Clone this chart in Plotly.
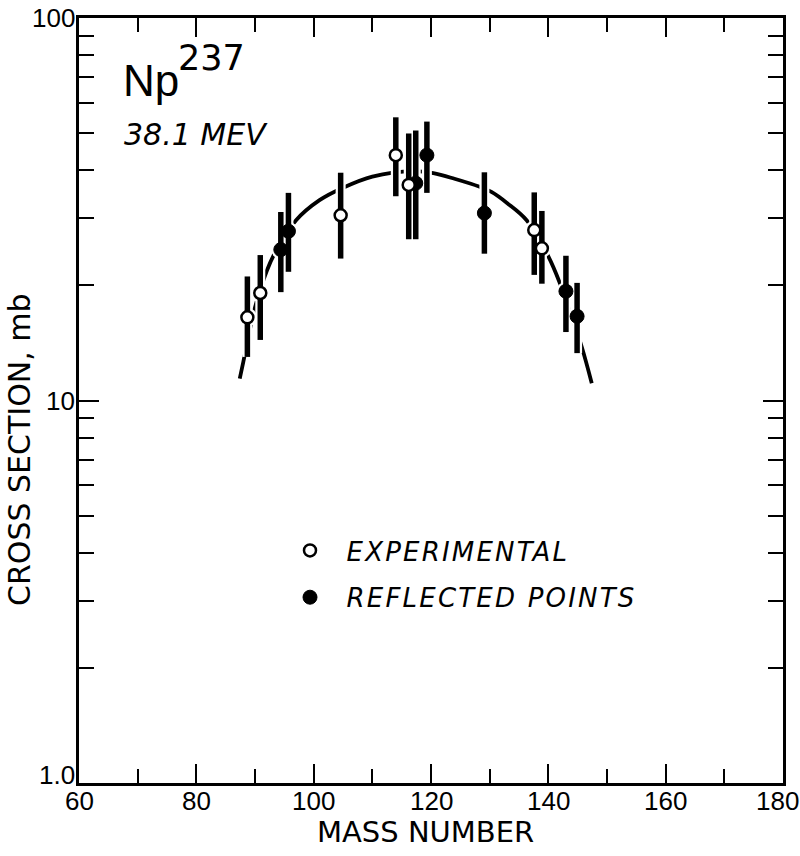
import math
import plotly.graph_objects as go

# ---------------- data ----------------
exp_mass = [88.7, 90.9, 104.6, 114.0, 116.2, 137.6, 138.9]
exp_val = [16.5, 19.1, 30.5, 43.8, 36.6, 27.9, 25.0]
exp_hi = [21.1, 24.0, 39.4, 55.0, 49.9, 35.0, 31.3]
exp_lo = [13.0, 14.4, 23.5, 34.2, 26.4, 21.3, 20.2]

ref_mass = [94.4, 95.7, 117.4, 119.3, 129.1, 143.0, 144.9]
ref_val = [24.8, 27.7, 37.0, 43.8, 30.9, 19.3, 16.6]
ref_hi = [31.1, 34.9, 50.8, 53.6, 39.5, 23.9, 20.3]
ref_lo = [19.2, 21.7, 26.4, 34.9, 24.2, 15.1, 13.3]

curve_mass = [87.4, 88.0, 90.0, 92.0, 93.5, 97.0, 101.0, 105.0, 110.0, 117.0,
              120.4, 124.0, 128.3, 130.3, 133.0, 136.3, 140.0, 142.0, 144.0,
              145.7, 147.4]
curve_val = [11.4, 12.6, 17.5, 21.8, 24.5, 29.6, 33.4, 36.0, 38.5, 39.8,
             39.3, 38.0, 36.2, 35.1, 32.8, 29.6, 23.8, 20.2, 16.5, 13.8, 11.1]

x_ticks = [60, 80, 100, 120, 140, 160, 180]
x_ticktext = ["60", "80", "100", "120", "140", "160", "180"]
y_ticks = [1, 10, 100]
y_ticktext = ["1.0", "10", "100"]
y_minor = [2, 3, 4, 5, 6, 7, 8, 9, 20, 30, 40, 50, 60, 70, 80, 90]

# ---------------- figure ----------------
FONT = "DejaVu Sans"
TICKFONT = "Liberation Sans"
TICKSIZE = 26


def err(val, hi, lo):
    return (dict(type="data", symmetric=False,
                 array=[h - v for v, h in zip(val, hi)],
                 arrayminus=[v - l for v, l in zip(val, lo)]))


def spaced(s):
    return '\u00a0\u00a0<span style="letter-spacing:2.2px">' + s + '</span>'


fig = go.Figure()

# fitted curve
fig.add_trace(go.Scatter(x=curve_mass, y=curve_val, mode="lines",
                         line=dict(color="black", width=3.8, shape="spline"),
                         showlegend=False, hoverinfo="skip"))

# white halos around bars and points
for m, v, hi, lo in [(exp_mass, exp_val, exp_hi, exp_lo),
                     (ref_mass, ref_val, ref_hi, ref_lo)]:
    e = err(v, hi, lo)
    e.update(color="white", thickness=10, width=0)
    fig.add_trace(go.Scatter(x=m, y=v, mode="markers",
                             marker=dict(size=19, color="white"),
                             error_y=e, showlegend=False, hoverinfo="skip"))

# reflected points
e = err(ref_val, ref_hi, ref_lo)
e.update(color="black", thickness=5.5, width=0)
fig.add_trace(go.Scatter(x=ref_mass, y=ref_val, mode="markers",
                         name=spaced("REFLECTED POINTS"), legendgroup="r",
                         legendrank=2,
                         marker=dict(size=14, color="black",
                                     line=dict(color="black", width=1)),
                         error_y=e))

# experimental points
e = err(exp_val, exp_hi, exp_lo)
e.update(color="black", thickness=5.5, width=0)
fig.add_trace(go.Scatter(x=exp_mass, y=exp_val, mode="markers",
                         name=spaced("EXPERIMENTAL"), legendgroup="e",
                         legendrank=1,
                         marker=dict(size=12, color="white",
                                     line=dict(color="black", width=2.5)),
                         error_y=e))

axis_common = dict(showline=True, linecolor="black", linewidth=2.5,
                   mirror="ticks", ticks="inside", tickcolor="black",
                   tickwidth=1.5, showgrid=False, zeroline=False,
                   automargin=False, showticklabels=False)

fig.update_xaxes(range=[60, 180], tickvals=x_ticks, ticklen=19,
                 minor=dict(dtick=10, ticks="inside", ticklen=14,
                            tickcolor="black", tickwidth=1.5),
                 **axis_common)
fig.update_yaxes(type="log", range=[0, 2], tickvals=y_ticks, ticklen=20,
                 minor=dict(tickvals=y_minor, ticks="inside", ticklen=15,
                            tickcolor="black", tickwidth=1.5),
                 **axis_common)

ann = []
tickfont = dict(family=TICKFONT, size=TICKSIZE, color="black")
# x tick labels (kept inside the page at the right edge)
for i, (v, t) in enumerate(zip(x_ticks, x_ticktext)):
    ann.append(dict(text=t, x=v, xref="x", y=0, yref="paper",
                    xanchor="center", yanchor="middle", showarrow=False,
                    yshift=-18, xshift=-6 if i == len(x_ticks) - 1 else 0,
                    font=tickfont))
# y tick labels
for i, (v, t) in enumerate(zip(y_ticks, y_ticktext)):
    ann.append(dict(text=t, x=0, xref="paper", y=math.log10(v), yref="y",
                    xanchor="right", yanchor="middle", showarrow=False,
                    xshift=-2, yshift=8 if i == 0 else 0, font=tickfont))

annotations = [
    dict(text="Np", x=121, y=97, size=44, family="Liberation Sans"),
    dict(text="237", x=176, y=72, size=35, family=FONT),
    dict(text="<i>38.1 MEV</i>", x=122, y=147, size=30, family=FONT),
]
for a in annotations:
    ann.append(dict(text=a["text"], xref="paper", yref="paper",
                    x=(a["x"] - 79) / 704, y=(783 - a["y"]) / 765,
                    xanchor="left", yanchor="bottom", showarrow=False,
                    yshift=-0.22 * a["size"],
                    font=dict(family=a["family"], color="black", size=a["size"])))
ann.append(dict(text="MASS NUMBER", xref="paper", yref="paper",
                x=(425 - 79) / 704, y=(783 - 832) / 765, xanchor="center",
                yanchor="middle", showarrow=False,
                font=dict(family=FONT, size=29, color="black")))
ann.append(dict(text="CROSS SECTION, mb", xref="paper", yref="paper",
                x=(19 - 79) / 704, y=(783 - 450) / 765, xanchor="center",
                yanchor="middle", showarrow=False, textangle=-90,
                font=dict(family=FONT, size=30, color="black")))

fig.update_layout(
    width=800, height=856,
    margin=dict(l=79, r=17, t=18, b=73, autoexpand=False),
    paper_bgcolor="white", plot_bgcolor="white",
    annotations=ann,
    legend=dict(x=(290 - 79) / 704, y=(783 - 527) / 765, xanchor="left",
                yanchor="top", bgcolor="rgba(0,0,0,0)", tracegroupgap=10,
                font=dict(family=FONT, size=26, color="black", style="italic")),
)

fig.write_html("out.html")
